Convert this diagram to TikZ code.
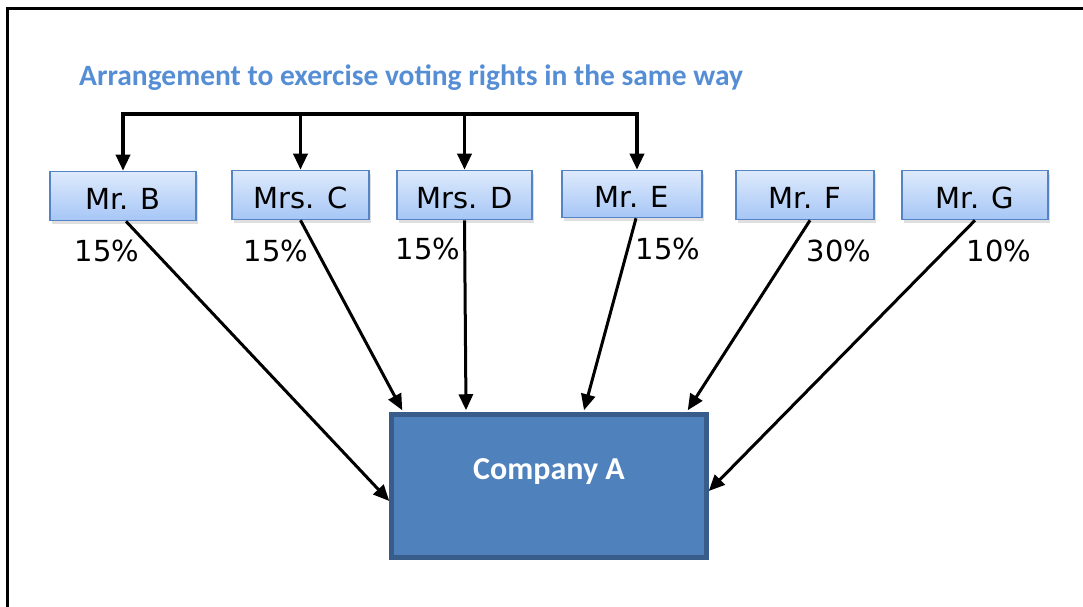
\documentclass[tikz,border=0pt]{standalone}
\usepackage{fontspec}
\setmainfont{DejaVu Sans}
\newfontfamily\calib{Carlito}
\usetikzlibrary{arrows.meta,shadows,calc}
\definecolor{titleblue}{RGB}{85,142,213}
\definecolor{boxtop}{RGB}{222,234,252}
\definecolor{boxbot}{RGB}{166,198,246}
\definecolor{boxline}{RGB}{84,132,196}
\definecolor{cofill}{RGB}{79,129,189}
\definecolor{coline}{RGB}{56,93,138}
\tikzset{
  person/.style={rectangle, draw=boxline, line width=1.6pt, top color=boxtop, bottom color=boxbot,
    minimum height=49pt, inner sep=0pt, text height=27pt, text depth=0pt, font=\fontsize{29}{30}\selectfont,
    drop shadow={opacity=0.25, shadow xshift=2pt, shadow yshift=-3pt}},
  pct/.style={font=\fontsize{29}{30}\selectfont, inner sep=0pt},
  arr/.style={line width=3pt, line join=miter, -{Triangle[length=16pt,width=14pt]}},
  bar/.style={line width=3.5pt, line join=miter}
}
\begin{document}
\begin{tikzpicture}[x=1pt,y=1pt]
\useasboundingbox (0,0) rectangle (1083,-607);
\clip (0,0) rectangle (1083,-607);
% frame
\draw[line width=3pt] (7.5,-620) -- (7.5,-8.5) -- (1095,-8.5);
% title
\node[anchor=west, text=titleblue, font=\calib\bfseries\fontsize{29.5}{31}\selectfont, inner sep=0pt] (title) at (79,-78) {Arrangement to exercise voting rights in the same way};
% persons
\node[person, minimum width=146pt] (B) at (123,-196) {Mr. B};
\node[person, minimum width=137pt] (C) at (300.5,-195) {Mrs. C};
\node[person, minimum width=135pt] (D) at (464.5,-195) {Mrs. D};
\node[person, minimum width=140pt, minimum height=47pt] (E) at (632,-194) {Mr. E};
\node[person, minimum width=138pt] (F) at (805,-195) {Mr. F};
\node[person, minimum width=146pt] (G) at (975,-195) {Mr. G};
% company
\node[rectangle, fill=cofill, draw=coline, line width=4.5pt, minimum width=315pt, minimum height=143pt, inner sep=0pt] (A) at (549,-486) {};
\node[text=white, font=\calib\bfseries\fontsize{32}{34}\selectfont, inner sep=0pt] (Alabel) at (549,-472) {Company A};
% percentages
\node[pct] (pB) at (107,-251) {15\%};
\node[pct] (pC) at (276,-251) {15\%};
\node[pct] (pD) at (428,-249) {15\%};
\node[pct] (pE) at (668,-249) {15\%};
\node[pct] (pF) at (839,-251) {30\%};
\node[pct] (pG) at (999,-251) {10\%};
% top bracket
\coordinate (top) at (0,-114);
\draw[bar, {Triangle[length=16pt,width=14pt]}-{Triangle[length=16pt,width=14pt]}]
  (B.north) -- (B.north |- top) -- ([xshift=5pt]E.north |- top) -- ([xshift=5pt]E.north);
\draw[bar, -{Triangle[length=16pt,width=14pt]}] (C.north |- top) -- (C.north);
\draw[bar, -{Triangle[length=16pt,width=14pt]}] (D.north |- top) -- (D.north);
% arrows to company
\draw[arr] ([xshift=3pt]B.south) -- ([yshift=-15pt]A.west);
\draw[arr] (C.south) -- ([xshift=13pt,yshift=2pt]A.north west);
\draw[arr] (D.south) -- ([xshift=-83pt,yshift=2pt]A.north);
\draw[arr] ([xshift=4pt]E.south) -- ([xshift=35pt,yshift=2pt]A.north);
\draw[arr] ([xshift=5pt]F.south) -- ([xshift=-21pt,yshift=2pt]A.north east);
\draw[arr] (G.south) -- ([yshift=-5pt]A.east);
\end{tikzpicture}
\end{document}
